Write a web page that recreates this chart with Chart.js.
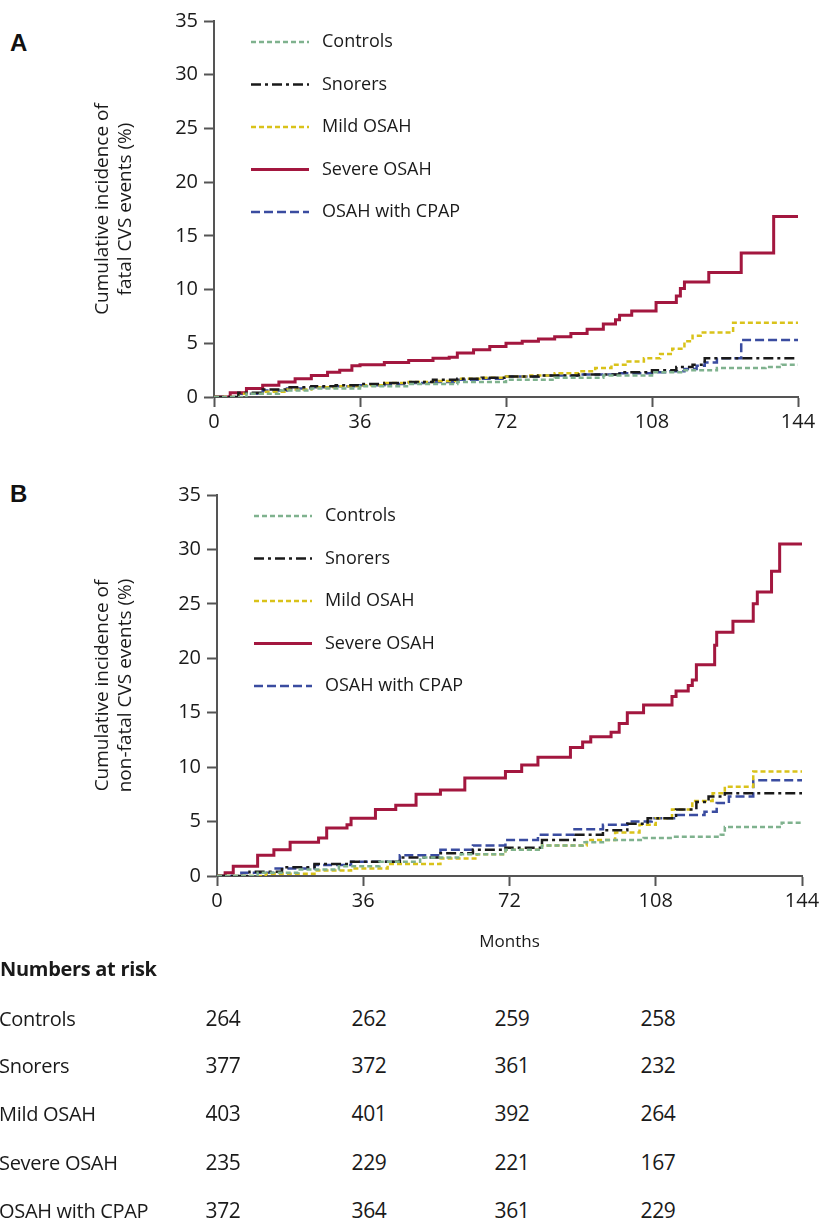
<!DOCTYPE html>
<html>
<head>
<meta charset="utf-8">
<script src="https://cdn.jsdelivr.net/npm/chart.js@4.4.1/dist/chart.umd.min.js"></script>
<style>
  body { margin: 0; background: #fff; width: 824px; height: 1221px; position: relative; overflow: hidden;
         font-family: "Open Sans", sans-serif; color: #1a1a1a; }
  canvas { position: absolute; left: 0; }
  #chartA { top: 0; }
  #chartB { top: 470px; }
  .tag { position: absolute; left: 10px; font: bold 24px "Liberation Sans", Arial, sans-serif; color: #111;
         transform: translateY(-50%); }
  .cell { position: absolute; font-size: 20px; white-space: nowrap; transform: translateY(-50%); letter-spacing: -0.3px; }
  .num { font-size: 21px; transform: translate(-50%, -50%); }
  .head { font-weight: bold; }
</style>
</head>
<body>
<div class="tag" style="top:43px">A</div>
<div class="tag" style="top:494px">B</div>
<canvas id="chartA" width="824" height="430"></canvas>
<canvas id="chartB" width="824" height="490"></canvas>
<div id="risk"></div>
<script>
const groups = ["Controls", "Snorers", "Mild OSAH", "Severe OSAH", "OSAH with CPAP"];
const monthTicks = [0, 36, 72, 108, 144];

// Panel A - fatal events (months, cumulative %)
const controlsA_m = [0, 8, 16, 24, 36, 48, 60, 72, 84, 96, 108, 116, 124, 136, 140, 144];
const controlsA_v = [0, 0.3, 0.6, 0.8, 1.0, 1.2, 1.4, 1.6, 1.8, 2.0, 2.3, 2.5, 2.7, 2.8, 3.0, 3.0];
const snorersA_m = [0, 6, 12, 18, 24, 30, 36, 42, 48, 54, 60, 66, 72, 80, 90, 100, 108, 114, 118, 121, 144];
const snorersA_v = [0, 0.4, 0.7, 0.9, 1.0, 1.1, 1.2, 1.3, 1.4, 1.6, 1.7, 1.8, 1.9, 2.0, 2.1, 2.3, 2.5, 2.8, 3.0, 3.6, 3.6];
const mildA_m = [0, 6, 12, 18, 24, 30, 36, 42, 48, 54, 60, 66, 72, 78, 84, 90, 94, 98, 102, 106, 110, 113, 116, 118, 120, 128, 144];
const mildA_v = [0, 0.3, 0.5, 0.7, 0.9, 1.0, 1.1, 1.3, 1.4, 1.5, 1.7, 1.8, 1.9, 2.0, 2.2, 2.4, 2.7, 3.0, 3.3, 3.6, 4.0, 4.5, 5.2, 5.7, 6.0, 6.9, 6.9];
const severeA_m = [0, 4, 8, 12, 16, 20, 24, 28, 31, 34, 36, 42, 48, 54, 58, 60, 64, 68, 72, 76, 80, 84, 88, 92, 96, 99, 100, 103, 109, 114, 115, 116, 122, 130, 138, 144];
const severeA_v = [0, 0.4, 0.8, 1.1, 1.4, 1.7, 2.0, 2.3, 2.5, 2.9, 3.0, 3.2, 3.4, 3.6, 3.7, 4.1, 4.4, 4.7, 5.0, 5.2, 5.4, 5.6, 5.9, 6.3, 6.8, 7.2, 7.6, 8.0, 8.8, 9.4, 10.1, 10.7, 11.6, 13.4, 16.8, 16.8];
const cpapA_m = [0, 6, 12, 18, 24, 30, 36, 42, 48, 54, 60, 66, 72, 80, 90, 100, 108, 112, 116, 119, 121, 124, 130, 144];
const cpapA_v = [0, 0.3, 0.6, 0.8, 0.9, 1.0, 1.1, 1.2, 1.3, 1.4, 1.6, 1.7, 1.9, 2.0, 2.1, 2.2, 2.3, 2.4, 2.6, 2.9, 3.2, 3.6, 5.3, 5.3];

// Panel B - non-fatal events
const controlsB_m = [0, 10, 20, 30, 40, 50, 60, 71, 80, 90, 95, 105, 112, 124, 125, 139, 144];
const controlsB_v = [0, 0.3, 0.6, 0.9, 1.3, 1.7, 2.0, 2.4, 2.8, 3.1, 3.3, 3.5, 3.6, 3.8, 4.5, 4.9, 4.9];
const snorersB_m = [0, 8, 16, 24, 33, 45, 55, 63, 71, 80, 88, 95, 101, 106, 113, 118, 121, 125, 144];
const snorersB_v = [0, 0.4, 0.8, 1.1, 1.3, 1.7, 2.1, 2.4, 2.6, 3.3, 3.8, 4.2, 4.8, 5.3, 6.1, 6.8, 7.3, 7.6, 7.6];
const mildB_m = [0, 12, 24, 33, 42, 55, 64, 71, 80, 91, 98, 104, 108, 112, 117, 122, 125, 132, 144];
const mildB_v = [0, 0.2, 0.5, 0.7, 1.1, 1.6, 2.0, 2.4, 2.8, 3.3, 4.0, 4.7, 5.3, 6.1, 6.9, 7.6, 8.2, 9.6, 9.6];
const severeB_m = [0, 2, 4, 10, 14, 18, 25, 27, 32, 33, 39, 44, 49, 55, 61, 71, 75, 79, 87, 90, 92, 97, 99, 101, 105, 112, 113, 116, 117, 118, 122.5, 123, 127, 132, 133, 136.5, 138.5, 144];
const severeB_v = [0, 0.3, 0.9, 1.9, 2.4, 3.1, 3.5, 4.4, 4.7, 5.3, 6.1, 6.5, 7.5, 7.9, 9.0, 9.6, 10.2, 10.9, 11.8, 12.3, 12.8, 13.2, 14.0, 15.0, 15.7, 16.5, 17.0, 17.5, 18.0, 19.4, 21.2, 22.4, 23.4, 25.0, 26.1, 28.0, 30.5, 30.5];
const cpapB_m = [0, 6, 14, 24, 33, 45, 55, 63, 71, 79, 88, 95, 101, 107, 113, 120, 123, 126, 132, 144];
const cpapB_v = [0, 0.3, 0.7, 1.0, 1.3, 1.9, 2.4, 2.8, 3.3, 3.8, 4.3, 4.7, 5.0, 5.3, 5.6, 5.9, 6.7, 7.3, 8.8, 8.8];

// Numbers at risk
const riskMonths = [0, 36, 72, 108];
const riskControls = [264, 262, 259, 258];
const riskSnorers = [377, 372, 361, 232];
const riskMild = [403, 401, 392, 264];
const riskSevere = [235, 229, 221, 167];
const riskCpap = [372, 364, 361, 229];

const styles = [
  { color: "#7fb28e", dash: [5, 3], width: 2.5 },
  { color: "#1a1a1a", dash: [10, 4, 3, 4], width: 2.5 },
  { color: "#d9c21a", dash: [5, 3], width: 2.5 },
  { color: "#a3173f", dash: [], width: 3 },
  { color: "#3a4ca0", dash: [9, 4], width: 2.5 }
];

function pts(m, v) {
  return m.map((x, i) => ({ x: x, y: v[i] }));
}

// legend drawn inside the plot, top-left
const lineLegend = {
  id: "lineLegend",
  afterDatasetsDraw(chart) {
    const { ctx, chartArea } = chart;
    ctx.save();
    chart.data.datasets.forEach((ds, i) => {
      const x = chartArea.left + 37;
      const y = chartArea.top + 21 + i * 42.5;
      ctx.beginPath();
      ctx.setLineDash(ds.borderDash);
      ctx.strokeStyle = ds.borderColor;
      ctx.lineWidth = ds.borderWidth;
      ctx.moveTo(x, y);
      ctx.lineTo(x + 58, y);
      ctx.stroke();
      ctx.setLineDash([]);
      ctx.fillStyle = "#1a1a1a";
      ctx.font = '18px "Open Sans"';
      ctx.textBaseline = "middle";
      ctx.fillText(ds.label, x + 71, y);
    });
    ctx.restore();
  }
};

function makeChart(id, series, yTitle, cfg) {
  const datasets = series.map((s, i) => ({
    label: groups[i],
    data: s,
    borderColor: styles[i].color,
    borderDash: styles[i].dash,
    borderWidth: styles[i].width,
    stepped: true,
    pointRadius: 0,
    fill: false
  }));
  return new Chart(document.getElementById(id), {
    type: "line",
    data: { datasets: datasets },
    options: {
      responsive: false,
      animation: false,
      devicePixelRatio: 1,
      layout: { padding: { left: 0, right: 824 - cfg.right, top: cfg.top, bottom: 0 } },
      plugins: { legend: { display: false }, tooltip: { enabled: false } },
      scales: {
        x: {
          type: "linear",
          min: 0,
          max: 144,
          afterBuildTicks: (s) => { s.ticks = monthTicks.map((v) => ({ value: v })); },
          afterFit: (s) => { s.height = cfg.xHeight; },
          grid: { drawOnChartArea: false, tickLength: 10, tickWidth: 2, tickColor: "#555" },
          border: { color: "#555", width: 2 },
          ticks: { font: { size: 20, family: "Open Sans" }, color: "#1a1a1a", padding: 3, maxRotation: 0 },
          title: {
            display: cfg.months,
            text: "Months",
            font: { size: 17, family: "Open Sans" },
            color: "#1a1a1a",
            padding: { top: 0, bottom: 8 }
          }
        },
        y: {
          min: 0,
          max: 35,
          ticks: { stepSize: 5, font: { size: 20, family: "Open Sans" }, color: "#1a1a1a", padding: 6 },
          afterFit: (s) => { s.width = cfg.left; },
          grid: { drawOnChartArea: false, tickLength: 10, tickWidth: 2, tickColor: "#555" },
          border: { color: "#555", width: 2 },
          title: {
            display: true,
            text: yTitle,
            font: { size: 19, family: "Open Sans" },
            color: "#1a1a1a",
            padding: { top: 91, bottom: 0 }
          }
        }
      }
    },
    plugins: [lineLegend]
  });
}

makeChart("chartA",
  [pts(controlsA_m, controlsA_v), pts(snorersA_m, snorersA_v), pts(mildA_m, mildA_v),
   pts(severeA_m, severeA_v), pts(cpapA_m, cpapA_v)],
  ["Cumulative incidence of", "fatal CVS events (%)"],
  { left: 214, right: 798, top: 21, xHeight: 33, months: false });

makeChart("chartB",
  [pts(controlsB_m, controlsB_v), pts(snorersB_m, snorersB_v), pts(mildB_m, mildB_v),
   pts(severeB_m, severeB_v), pts(cpapB_m, cpapB_v)],
  ["Cumulative incidence of", "non-fatal CVS events (%)"],
  { left: 217, right: 802, top: 25, xHeight: 84, months: true });

// numbers-at-risk table
const risk = document.getElementById("risk");
const riskRows = [riskControls, riskSnorers, riskMild, riskSevere, riskCpap];
const colX = [223, 369, 512, 658];
const rowY = [1018, 1065, 1113, 1162, 1210];
function cell(text, x, y, cls) {
  const d = document.createElement("div");
  d.className = "cell " + cls;
  d.textContent = text;
  d.style.left = x + "px";
  d.style.top = y + "px";
  risk.appendChild(d);
}
cell("Numbers at risk", 0, 968, "head");
riskRows.forEach((row, r) => {
  cell(groups[r], -1, rowY[r], "");
  row.forEach((n, c) => cell(n, colX[c], rowY[r], "num"));
});
</script>
</body>
</html>
